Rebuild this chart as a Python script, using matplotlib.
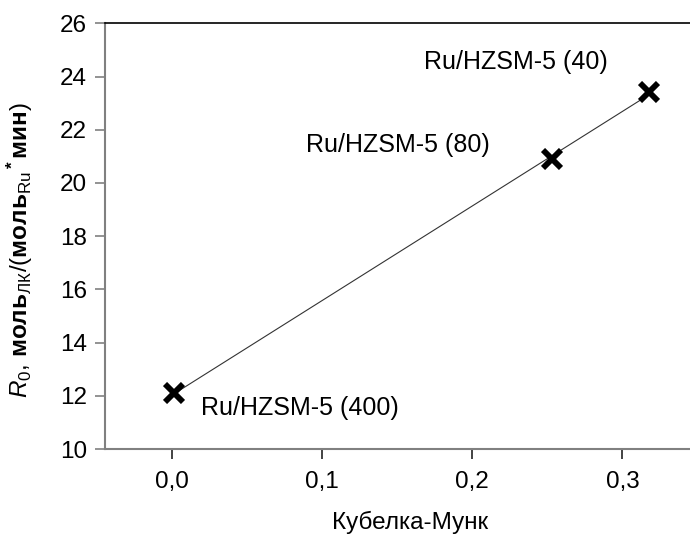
import numpy as np
import matplotlib
matplotlib.use("Agg")
import matplotlib.pyplot as plt
from matplotlib.ticker import FuncFormatter

plt.rcParams['font.family'] = ['Liberation Sans', 'DejaVu Sans']
plt.rcParams['mathtext.fontset'] = 'custom'
plt.rcParams['mathtext.rm'] = 'Liberation Sans'
plt.rcParams['mathtext.it'] = 'Liberation Sans:italic'
plt.rcParams['mathtext.bf'] = 'Liberation Sans:bold'

# data
samples = ["Ru/HZSM-5 (400)", "Ru/HZSM-5 (80)", "Ru/HZSM-5 (40)"]
km = [0.001, 0.253, 0.318]
r0 = [12.09, 20.89, 23.43]
xticks = [0.0, 0.1, 0.2, 0.3]
yticks = [10, 12, 14, 16, 18, 20, 22, 24, 26]
# label anchor positions (data coords, left/baseline)
lab_x = [0.019, 0.089, 0.168]
lab_y = [11.27, 21.16, 24.28]

W, H = 690, 535
fig = plt.figure(figsize=(W / 100, H / 100), dpi=100)
ax = fig.add_axes([105 / W, 1 - 449 / H, 1 - 105 / W, (449 - 23.3) / H])

# trend line
coef = np.polyfit(km, r0, 1)
xs = np.array([min(km), max(km)])
ax.plot(xs, np.polyval(coef, xs), color='#333333', lw=0.8, zorder=2)
ax.plot(km, r0, linestyle='none', marker='x', ms=13, mew=4.2, color='black', zorder=3)

for s, lx, ly in zip(samples, lab_x, lab_y):
    ax.text(lx, ly, s, fontsize=18, ha='left', va='baseline', color='black')

ax.set_xlim(-0.0447, 0.345)
ax.set_ylim(10, 26)
ax.set_xticks(xticks)
ax.set_yticks(yticks)
ax.xaxis.set_major_formatter(FuncFormatter(lambda v, p: f"{v:.1f}".replace('.', ',')))
ax.yaxis.set_major_formatter(FuncFormatter(lambda v, p: f"{int(v)}"))

ax.spines['right'].set_visible(False)
ax.spines['top'].set_color('black')
ax.spines['top'].set_linewidth(1.2)
ax.spines['left'].set_color('#808080')
ax.spines['bottom'].set_color('#808080')
ax.spines['left'].set_linewidth(1.5)
ax.spines['bottom'].set_linewidth(1.5)

ax.tick_params(axis='y', direction='out', length=7, width=1.2, color='#808080',
               labelsize=17.5, pad=6, labelcolor='black')
ax.tick_params(axis='x', direction='out', length=7, width=1.2, color='#222222',
               labelsize=17.5, pad=9, labelcolor='black')

fig.text(410 / W, 1 - 529 / H, "Кубелка-Мунк", fontsize=17.5, ha='center', va='baseline')
fig.text(20 / W, 1 - 250 / H,
         r"$\mathit{R_0}$, $\mathbf{моль}_{\mathrm{ЛК}}$/($\mathbf{моль}_{\mathrm{Ru}}$$\mathbf{^*мин}$)",
         fontsize=17.5, rotation=90, ha='center', va='center')

fig.savefig("out.png", dpi=100)
